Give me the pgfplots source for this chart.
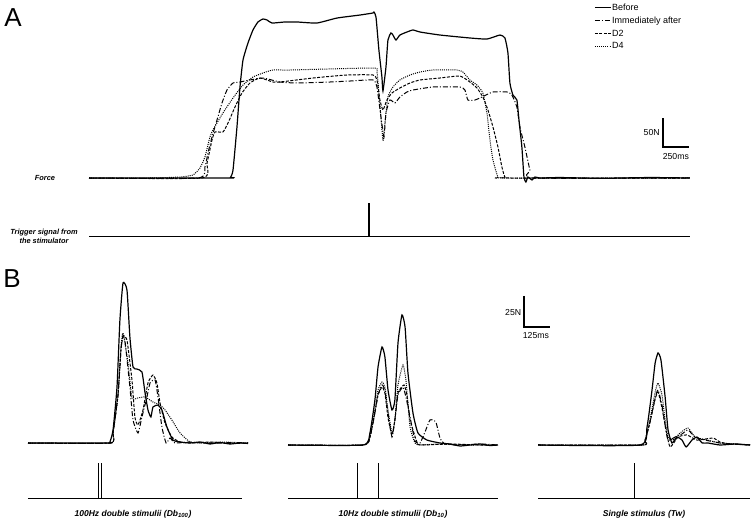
\documentclass[border=0pt]{standalone}
\usepackage{pgfplots}
\pgfplotsset{compat=1.18}
\usepackage{fontspec}
\setmainfont{Liberation Sans}

\newcommand{\lab}{\fontsize{7.4}{9}\selectfont\bfseries\itshape}
\newcommand{\labB}{\fontsize{8.5}{10}\selectfont\bfseries\itshape}
\newcommand{\sbar}{\fontsize{8.7}{10}\selectfont}

\pgfplotsset{
  trace/.style={hide axis, scale only axis, clip=false, anchor=south west},
  sBefore/.style={black, line width=1.2pt, smooth, tension=0.3},
  sImm/.style={black, line width=1pt, smooth, tension=0.3, dash pattern=on 5pt off 2pt on 1pt off 2pt},
  sDtwo/.style={black, line width=1pt, smooth, tension=0.3, dash pattern=on 3pt off 1.5pt},
  sDfour/.style={black, line width=1pt, smooth, tension=0.3, dash pattern=on 1pt off 1.1pt},
  trig/.style={black, line width=0.8pt},
}

\begin{document}
\begin{tikzpicture}
\useasboundingbox (0pt,0pt) rectangle (751pt,522pt);

% ---------- panel A: force ----------
\begin{axis}[trace, at={(89pt,332.4pt)}, width=601pt, height=185.6pt,
  xmin=0, xmax=5780, ymin=-20, ymax=300,
  legend cell align=left,
  legend image code/.code={\draw[#1] (0pt,0pt) -- (16pt,0pt);},
  legend style={at={(0.8403,1.006)}, anchor=north west, draw=none, fill=none,
    inner sep=0pt, row sep=3.8pt, font=\fontsize{9}{10}\selectfont,
    nodes={inner sep=0.6pt}},
]
\addplot[sBefore] coordinates {(0,0) (1340,0) (1362,1.5) (1385,13.8) (1423,87.9) (1452,156.9) (1481,203.4) (1529,232.8) (1577,255.2) (1625,269) (1673,274.1) (1712,272.4) (1760,267.2) (1885,269) (2000,269) (2192,267.2) (2385,275.8) (2606,281) (2731,284.5) (2740,286.2) (2760,277.6) (2788,220.7) (2817,174.1) (2827,150) (2856,191.4) (2875,237.9) (2904,250) (2923,246.5) (2952,237.9) (2990,246.5) (3058,251.7) (3115,255.2) (3183,251.7) (3375,246.5) (3663,241.4) (3827,239.6) (3952,246.5) (4000,241.4) (4029,215.5) (4048,163.8) (4077,143.1) (4115,134.5) (4135,100) (4163,53.4) (4183,1.7) (4202,-6.9) (4221,1.7) (4260,-3.4) (4288,1.7) (4337,0) (4529,0.8) (4913,-0.5) (5394,0.8) (5779,0)};
\addlegendentry{Before}
\addplot[sImm] coordinates {(0,0) (1048,0) (1115,19) (1144,43.1) (1183,70.7) (1231,100) (1279,129.3) (1327,151.7) (1385,163.8) (1452,165.5) (1548,169) (1673,172.4) (1837,165.5) (2000,163.8) (2317,165.5) (2510,167.2) (2731,169) (2769,156.9) (2808,105.2) (2837,70.7) (2856,112.1) (2894,134.5) (2942,129.3) (2990,139.6) (3058,148.3) (3115,151.7) (3308,156.9) (3567,156.9) (3615,151.7) (3644,134.5) (3712,134.5) (3779,139.6) (3885,148.3) (4019,148.3) (4067,143.1) (4115,122.4) (4144,87.9) (4192,53.4) (4240,13.8) (4269,0) (5779,0)};
\addlegendentry{Immediately after}
\addplot[sDtwo] coordinates {(0,0) (1087,0) (1135,25.9) (1183,65.5) (1212,79.3) (1288,79.3) (1337,94.8) (1404,122.4) (1471,146.5) (1548,163.8) (1644,172.4) (1769,165.5) (1837,165.5) (2154,172.4) (2481,177.6) (2731,177.6) (2769,169) (2798,134.5) (2827,117.2) (2865,134.5) (2913,146.5) (2990,155.2) (3087,163.8) (3183,169) (3375,172.4) (3567,175.8) (3663,165.5) (3731,155.2) (3788,139.6) (3837,117.2) (3885,87.9) (3933,53.4) (3971,19) (4000,1.7) (4048,0) (5779,0)};
\addlegendentry{D2}
\addplot[sDfour] coordinates {(0,0) (587,0) (875,1.7) (1000,5.2) (1067,17.2) (1115,36.2) (1163,70.7) (1192,82.8) (1288,112.1) (1385,137.9) (1481,160.3) (1577,174.1) (1673,181) (1769,186.2) (1933,186.2) (2731,189.6) (2769,182.7) (2788,146.5) (2827,65.5) (2846,94.8) (2875,139.6) (2923,156.9) (2990,169) (3087,177.6) (3183,182.7) (3308,186.2) (3538,186.2) (3596,182.7) (3663,169) (3731,160.3) (3788,146.5) (3827,112.1) (3856,65.5) (3885,31) (3933,1.7) (3981,0) (5779,0)};
\addlegendentry{D4}
% scale bar 50 N / 250 ms
\draw[line width=1.3pt] (axis cs:5519,103.4) -- (axis cs:5519,53.4) -- (axis cs:5769,53.4);
\node[anchor=east, font=\sbar, inner sep=1pt] at (axis cs:5500,77.6) {50N};
\node[font=\sbar, inner sep=0pt] at (axis cs:5644,37.9) {250ms};
\end{axis}

% ---------- panel A: trigger ----------
\begin{axis}[trace, at={(89pt,286pt)}, width=601pt, height=33pt,
  xmin=0, xmax=5780, ymin=0, ymax=1]
\addplot[trig] coordinates {(0,0) (5779,0)};
\addplot[black, line width=2.2pt] coordinates {(2692,0) (2692,1)};
\end{axis}

% ---------- panel B: 100 Hz doublet ----------
\begin{axis}[trace, at={(28pt,66.6pt)}, width=220pt, height=179.9pt,
  xmin=0, xmax=1058, ymin=-10, ymax=135]
\addplot[sBefore] coordinates {(0,0) (385,0) (394,0.8) (409,10.5) (428,45.1) (442,99.1) (457,129) (476,123.3) (490,85.4) (505,61.3) (524,59.6) (548,57.2) (563,40.3) (577,26.6) (591,21) (601,29) (625,30.6) (644,26.6) (668,12.9) (697,2.4) (731,0.8) (779,0) (827,0.8) (875,-0.8) (923,0.4) (971,-0.8) (1019,0) (1058,-0.4)};
\addplot[sImm] coordinates {(0,0) (394,0) (409,8.1) (433,38.7) (447,75) (457,87) (466,83) (490,45.1) (505,18.5) (529,8.1) (548,21) (572,37.1) (587,48.4) (611,50.8) (625,37.1) (644,12.9) (664,0) (683,4) (707,0) (779,0.8) (875,-0.4) (971,0.4) (1058,0)};
\addplot[sDtwo] coordinates {(0,0) (394,0) (409,8.1) (433,38.7) (447,75) (457,85.4) (476,83) (500,50.8) (514,21) (529,14.5) (553,26.6) (577,48.4) (601,54.8) (620,48.4) (635,32.2) (659,16.1) (692,4.8) (731,0.8) (779,0) (875,0.8) (971,-0.4) (1058,0)};
\addplot[sDfour] coordinates {(0,0) (394,0) (409,8.1) (433,40.3) (447,76.6) (457,88.7) (481,64.5) (500,36.3) (529,36.3) (563,37.1) (601,33) (635,30.6) (659,26.6) (692,18.5) (731,8.1) (779,0.8) (827,0) (923,0.8) (1058,0)};
\end{axis}
\begin{axis}[trace, at={(28pt,24pt)}, width=220pt, height=35pt,
  xmin=0, xmax=1058, ymin=0, ymax=1]
\addplot[trig] coordinates {(0,0) (1029,0)};
\addplot[black, line width=0.7pt] coordinates {(340,0) (340,1)};
\addplot[black, line width=0.7pt] coordinates {(352,0) (352,1)};
\end{axis}

% ---------- panel B: 10 Hz doublet ----------
\begin{axis}[trace, at={(288pt,64.6pt)}, width=210pt, height=179.9pt,
  xmin=0, xmax=1010, ymin=-10, ymax=135]
\addplot[sBefore] coordinates {(0,0) (361,0) (394,9.7) (418,36.3) (433,62.9) (452,79) (466,71) (481,44.3) (500,28.2) (514,36.3) (529,82.2) (548,104.8) (563,95.1) (577,58) (601,25.8) (625,9.7) (668,4) (731,1.6) (779,0.8) (827,-0.8) (875,0) (923,0.8) (971,-0.4) (1010,0)};
\addplot[sImm] coordinates {(0,0) (361,0) (394,6.4) (418,26) (433,40.3) (452,48.4) (466,44.3) (481,25.8) (500,6.4) (514,20.2) (529,40.3) (553,46.7) (567,38.7) (587,22.6) (611,3) (635,1.6) (659,10.5) (683,20.2) (711,18.5) (731,5.6) (755,0.8) (827,0) (923,0.8) (1010,0)};
\addplot[sDtwo] coordinates {(0,0) (361,0) (394,6.4) (418,26) (433,40.3) (452,46.7) (466,42) (481,22) (500,8.1) (514,20) (529,42) (558,48.4) (572,40) (587,20.2) (620,2.4) (635,0) (779,0.8) (923,0) (1010,0)};
\addplot[sDfour] coordinates {(0,0) (361,0) (394,6.4) (418,28.2) (433,44.3) (452,50.8) (466,46.7) (481,28.2) (500,9.7) (514,20.2) (529,48.4) (553,64.5) (567,52.4) (587,14.5) (611,1.6) (635,0) (731,0.8) (875,0) (1010,0)};
\end{axis}
\begin{axis}[trace, at={(288pt,24pt)}, width=210pt, height=35pt,
  xmin=0, xmax=1010, ymin=0, ymax=1]
\addplot[trig] coordinates {(0,0) (1010,0)};
\addplot[black, line width=0.8pt] coordinates {(332,0) (332,1)};
\addplot[black, line width=0.8pt] coordinates {(433,0) (433,1)};
\end{axis}

% ---------- panel B: single twitch ----------
\begin{axis}[trace, at={(538pt,64.6pt)}, width=212pt, height=179.9pt,
  xmin=0, xmax=1019, ymin=-10, ymax=135]
\addplot[sBefore] coordinates {(0,0) (490,0) (524,14.5) (548,44.3) (563,66.1) (577,74.2) (591,68.5) (611,38.7) (625,12.1) (644,1.6) (668,6.4) (692,4) (712,-1.6) (740,4) (764,6.4) (789,1.6) (817,1.6) (875,0) (947,0.8) (1019,0)};
\addplot[sImm] coordinates {(0,0) (500,0) (514,3.2) (538,18.5) (563,37.9) (577,44.3) (596,32.2) (611,16.1) (625,4) (659,6.4) (692,8.9) (721,12.1) (755,6.4) (803,4) (875,1.6) (947,0.8) (1019,0)};
\addplot[sDtwo] coordinates {(0,0) (500,0) (514,3.2) (538,18) (563,37) (577,42.7) (596,29.8) (615,12.1) (635,-1.6) (673,6.4) (716,8.1) (764,4) (841,5.6) (875,2.4) (923,0.8) (1019,0)};
\addplot[sDfour] coordinates {(0,0) (500,0) (514,4) (538,20.2) (563,42.7) (577,50) (596,40.3) (611,20.2) (625,6.4) (649,4) (683,9.7) (721,13.7) (755,6.4) (813,4) (875,1.6) (947,0.8) (1019,0)};
% scale bar 25 N / 125 ms
\draw[line width=1.3pt] (axis cs:-67,120.1) -- (axis cs:-67,95.1) -- (axis cs:58,95.1);
\node[anchor=east, font=\sbar, inner sep=1pt] at (axis cs:-75,106.4) {25N};
\node[font=\sbar, inner sep=0pt] at (axis cs:-10,87.9) {125ms};
\end{axis}
\begin{axis}[trace, at={(538pt,24pt)}, width=212pt, height=35pt,
  xmin=0, xmax=1019, ymin=0, ymax=1]
\addplot[trig] coordinates {(0,0) (1019,0)};
\addplot[black, line width=1pt] coordinates {(462,0) (462,1)};
\end{axis}

% ---------- labels ----------
\node[font=\fontsize{26}{26}\selectfont] at (13pt,504pt) {A};
\node[font=\fontsize{26}{26}\selectfont] at (12pt,243pt) {B};
\node[font=\lab] at (45pt,344pt) {Force};
\node[font=\lab, align=center] at (44pt,286pt) {Trigger signal from\\the stimulator};
\node[font=\labB] at (133pt,8pt) {100Hz double stimulii (Db\textsubscript{100})};
\node[font=\labB] at (393pt,8pt) {10Hz double stimulii (Db\textsubscript{10})};
\node[font=\labB] at (644pt,8pt) {Single stimulus (Tw)};
\end{tikzpicture}
\end{document}
